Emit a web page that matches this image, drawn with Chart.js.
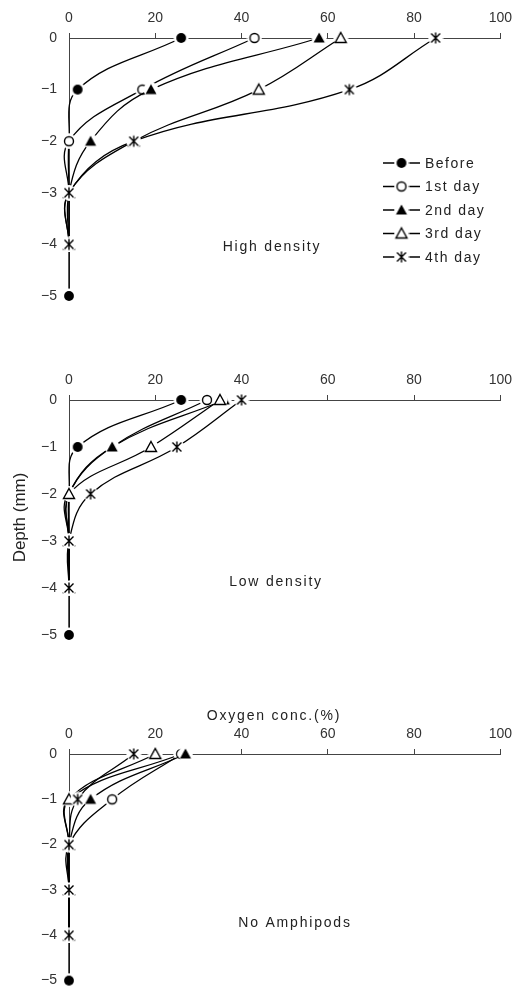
<!DOCTYPE html>
<html>
<head>
<meta charset="utf-8">
<script src="https://cdn.jsdelivr.net/npm/chart.js@4.4.1/dist/chart.umd.min.js"></script>
<style>
  body { margin: 0; background: #fff; }
  canvas { display: block; }
</style>
</head>
<body>
<canvas id="highChart" width="518" height="330"></canvas>
<canvas id="lowChart" width="518" height="330"></canvas>
<canvas id="noneChart" width="518" height="341"></canvas>
<script>
// depths (mm) and series names
const depths = [0, -1, -2, -3, -4, -5];
const seriesNames = ['Before', '1st day', '2nd day', '3rd day', '4th day'];
const xTicks = [0, 20, 40, 60, 80, 100];
const yTicks = [0, -1, -2, -3, -4, -5];

// High density, oxygen conc. (%) per depth
const highBefore = [26, 2, 0, 0, 0, 0];
const highDay1 = [43, 17, 0, 0, 0];
const highDay2 = [58, 19, 5, 0, 0];
const highDay3 = [63, 44, 15, 0, 0];
const highDay4 = [85, 65, 15, 0, 0];

// Low density
const lowBefore = [26, 2, 0, 0, 0, 0];
const lowDay1 = [32, 10, 0, 0, 0];
const lowDay2 = [36, 10, 0, 0, 0];
const lowDay3 = [35, 19, 0, 0, 0];
const lowDay4 = [40, 25, 5, 0, 0];

// No amphipods
const noneBefore = [26, 0, 0, 0, 0, 0];
const noneDay1 = [26, 10, 0, 0, 0];
const noneDay2 = [27, 5, 0, 0, 0];
const noneDay3 = [20, 0, 0, 0, 0];
const noneDay4 = [15, 2, 0, 0, 0];

const tickFont = '"Liberation Sans", Arial, sans-serif';

function makeMarker(kind) {
    const c = document.createElement('canvas');
    c.width = 16;
    c.height = 16;
    const ctx = c.getContext('2d');
    ctx.translate(8, 8);
    ctx.fillStyle = '#fff';
    ctx.beginPath();
    ctx.arc(0, 0, 7.5, 0, Math.PI * 2);
    ctx.fill();
    ctx.strokeStyle = '#000';
    ctx.lineWidth = 1.4;
    ctx.beginPath();
    if (kind === 'dot' || kind === 'ring') {
        ctx.arc(0, 0, kind === 'dot' ? 4.9 : 4.5, 0, Math.PI * 2);
    } else if (kind === 'tri' || kind === 'openTri') {
        ctx.moveTo(0, -5.5);
        ctx.lineTo(5.5, 4.5);
        ctx.lineTo(-5.5, 4.5);
        ctx.closePath();
    }
    if (kind === 'dot' || kind === 'tri') {
        ctx.fillStyle = '#000';
        ctx.fill();
    } else if (kind === 'ring' || kind === 'openTri') {
        ctx.fillStyle = '#fff';
        ctx.fill();
        ctx.stroke();
    } else {
        // asterisk: X with a vertical bar
        ctx.moveTo(-4.5, -4.5); ctx.lineTo(4.5, 4.5);
        ctx.moveTo(4.5, -4.5); ctx.lineTo(-4.5, 4.5);
        ctx.moveTo(0, -5.5); ctx.lineTo(0, 5.5);
        ctx.stroke();
    }
    return c;
}

const markers = ['dot', 'ring', 'tri', 'openTri', 'star'].map(makeMarker);

const panelTextPlugin = {
    id: 'panelText',
    afterDraw(chart, args, opts) {
        const ctx = chart.ctx;
        ctx.save();
        ctx.font = '14px ' + tickFont;
        ctx.letterSpacing = '1.8px';
        ctx.fillStyle = '#222';
        ctx.textBaseline = 'middle';
        ctx.textAlign = 'center';
        (opts.items || []).forEach(t => ctx.fillText(t.text, t.x, t.y));
        if (opts.legend) {
            const lg = opts.legend;
            ctx.textAlign = 'left';
            ctx.letterSpacing = '1.5px';
            chart.data.datasets.forEach((ds, i) => {
                const y = lg.y + i * 23.5;
                ctx.strokeStyle = '#000';
                ctx.lineWidth = 1.3;
                ctx.beginPath();
                ctx.moveTo(lg.x, y);
                ctx.lineTo(lg.x + 37, y);
                ctx.stroke();
                ctx.drawImage(ds.pointStyle, lg.x + 18.5 - 8, y - 8);
                ctx.fillText(ds.label, lg.x + 42, y + 1);
            });
        }
        ctx.restore();
    }
};

function buildPanel(id, seriesValues, layout) {
    const datasets = seriesValues.map((vals, i) => ({
        label: seriesNames[i],
        data: vals.map((v, k) => ({ x: v, y: depths[k] })),
        borderColor: '#000',
        backgroundColor: '#000',
        borderWidth: 1.3,
        pointStyle: markers[i],
        pointRadius: 5,
        tension: 0.4,
        clip: false,
        order: seriesValues.length - i
    }));

    return new Chart(document.getElementById(id), {
        type: 'line',
        data: { datasets: datasets },
        options: {
            responsive: false,
            animation: false,
            layout: { padding: { top: layout.padTop, right: 15, bottom: layout.padBottom, left: 0 } },
            elements: { line: { capBezierPoints: false } },
            plugins: {
                legend: { display: false },
                tooltip: { enabled: false },
                panelText: { items: layout.texts, legend: layout.legend }
            },
            scales: {
                x: {
                    type: 'linear',
                    position: 'top',
                    min: 0,
                    max: 100,
                    afterBuildTicks: s => { s.ticks = xTicks.map(v => ({ value: v })); },
                    afterFit: s => { s.height = layout.axisHeight; },
                    ticks: { font: { family: tickFont, size: 14 }, color: '#333', padding: 6, maxRotation: 0 },
                    grid: { drawOnChartArea: false, tickLength: 5, color: '#444' },
                    border: { color: '#444', width: 1 }
                },
                y: {
                    type: 'linear',
                    min: -5,
                    max: 0,
                    afterBuildTicks: s => { s.ticks = yTicks.map(v => ({ value: v })); },
                    afterFit: s => { s.width = 69; },
                    ticks: {
                        font: { family: tickFont, size: 14 },
                        color: '#333',
                        padding: 12,
                        callback: v => v === 0 ? '0' : '\u2212' + Math.abs(v)
                    },
                    grid: { drawOnChartArea: false, drawTicks: false },
                    border: { color: '#444', width: 1 },
                    title: {
                        display: !!layout.yTitle,
                        text: 'Depth (mm)',
                        font: { family: tickFont, size: 17 },
                        color: '#222',
                        padding: { top: 10, bottom: 0 }
                    }
                }
            }
        },
        plugins: [panelTextPlugin]
    });
}

const highChart = buildPanel('highChart',
    [highBefore, highDay1, highDay2, highDay3, highDay4],
    {
        padTop: 0, axisHeight: 38, padBottom: 34,
        texts: [{ text: 'High density', x: 272, y: 247 }],
        legend: { x: 383, y: 163 }
    });

const lowChart = buildPanel('lowChart',
    [lowBefore, lowDay1, lowDay2, lowDay3, lowDay4],
    {
        padTop: 32, axisHeight: 38, padBottom: 25, yTitle: true,
        texts: [{ text: 'Low density', x: 276, y: 252 }]
    });

const noneChart = buildPanel('noneChart',
    [noneBefore, noneDay1, noneDay2, noneDay3, noneDay4],
    {
        padTop: 0, axisHeight: 94, padBottom: 8,
        texts: [
            { text: 'Oxygen conc.(%)', x: 274, y: 56 },
            { text: 'No Amphipods', x: 295, y: 263 }
        ]
    });
</script>
</body>
</html>
